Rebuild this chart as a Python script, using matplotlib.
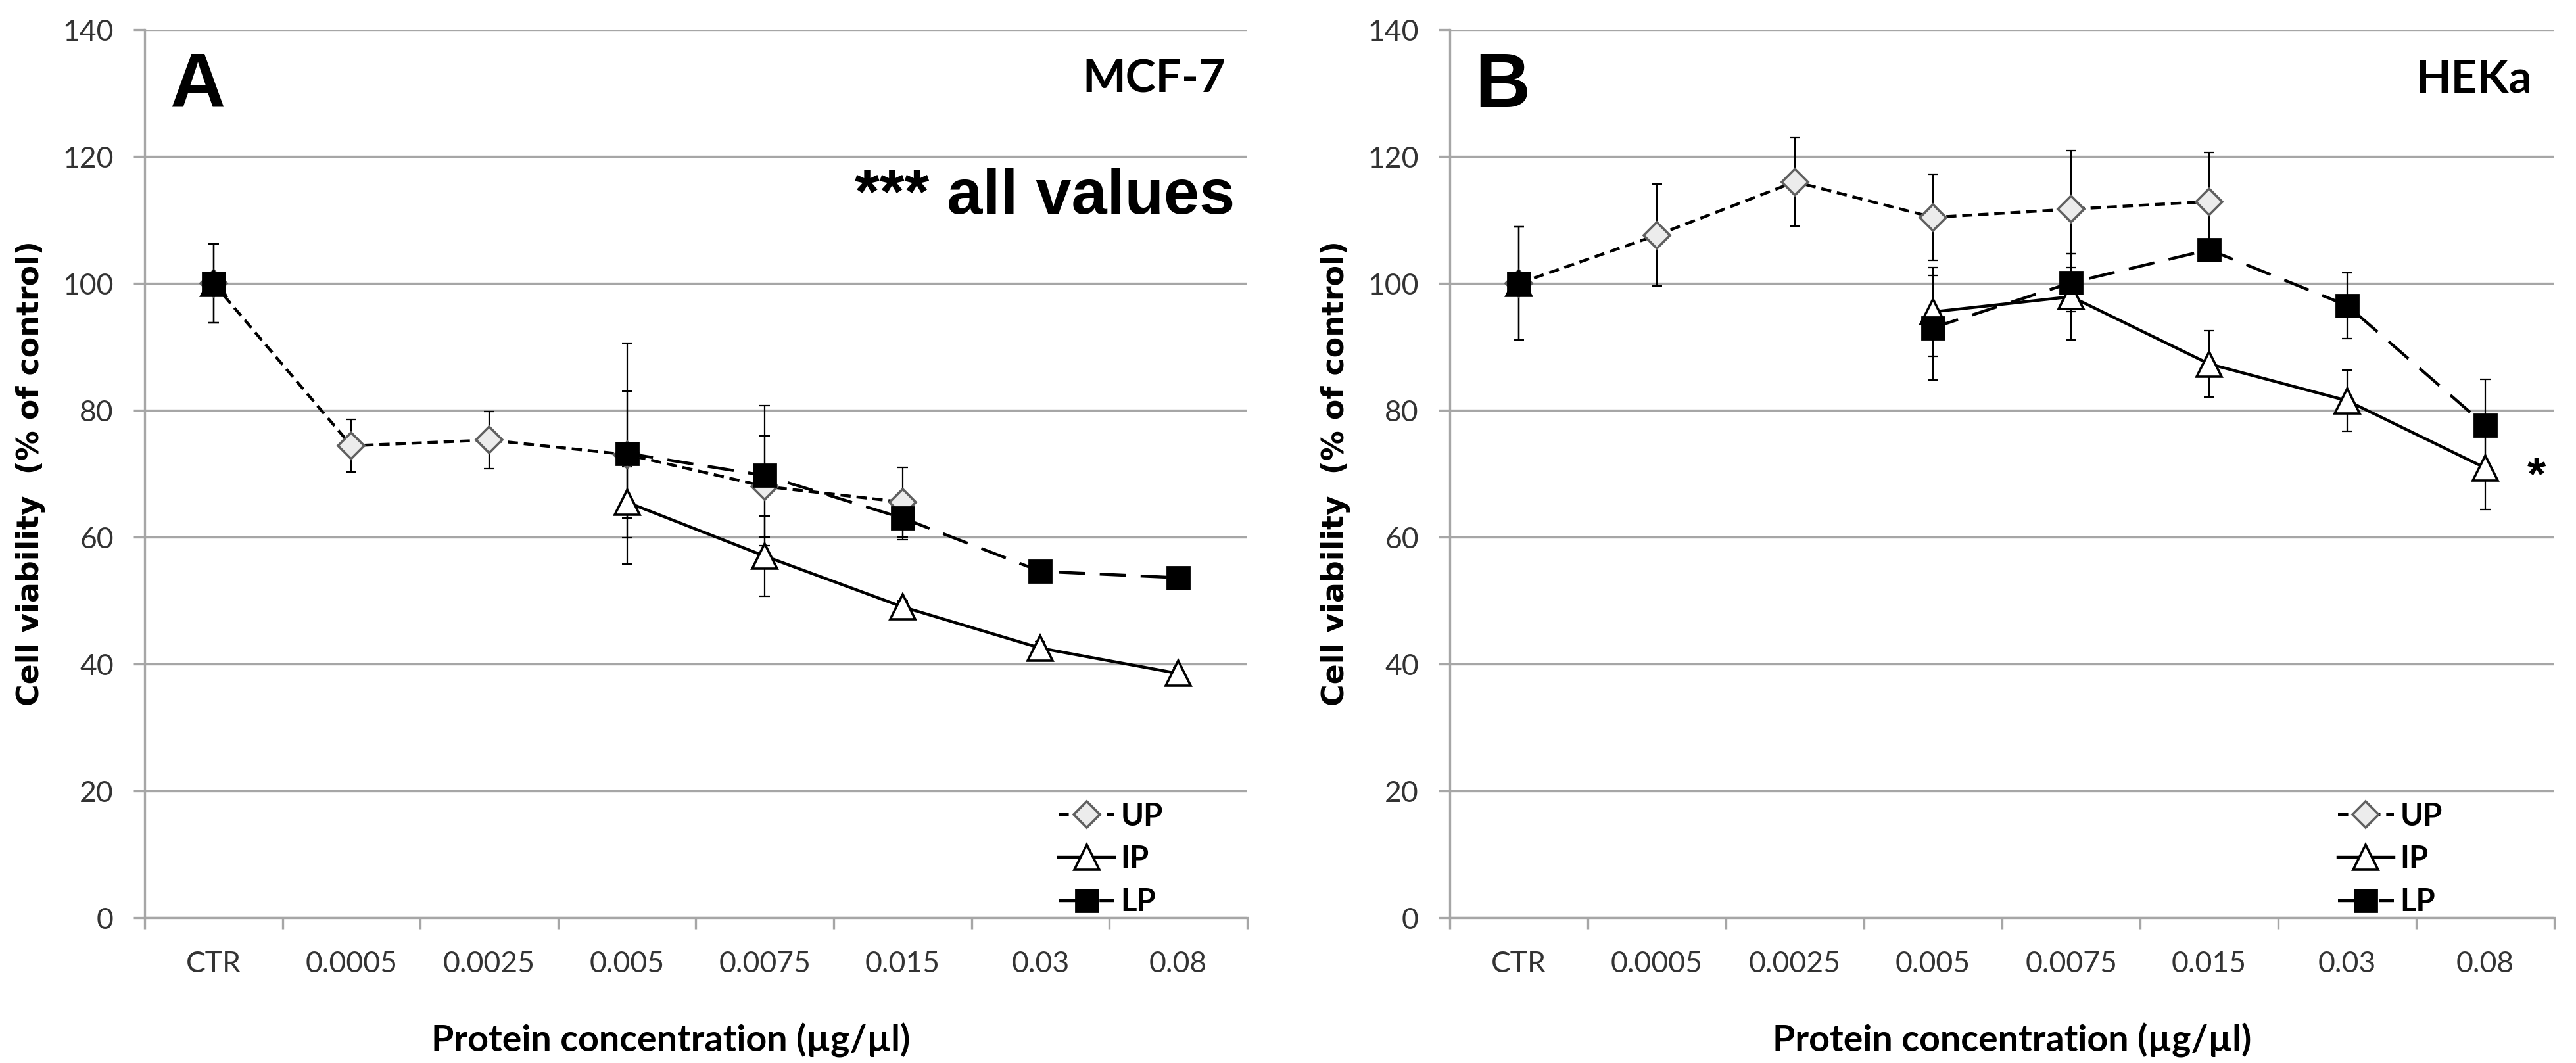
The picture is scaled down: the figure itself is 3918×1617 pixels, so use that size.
import numpy as np
import matplotlib
matplotlib.use("Agg")
import matplotlib.pyplot as plt

nan = np.nan

cats = ["CTR", "0.0005", "0.0025", "0.005", "0.0075", "0.015", "0.03", "0.08"]

# panel A, MCF-7
up_a = [100, 74.4, 75.3, 73.0, 68.0, 65.5, nan, nan]
up_a_err = [6.2, 4.1, 4.5, 10.0, 8.0, 5.5, nan, nan]
ip_a = [100, nan, nan, 65.5, 57.0, 49.0, 42.5, 38.5]
ip_a_err = [6.2, nan, nan, 5.6, 6.3, 1.0, 1.0, 1.0]
lp_a = [100, nan, nan, 73.2, 69.7, 63.0, 54.6, 53.6]
lp_a_err = [6.2, nan, nan, 17.4, 11.0, 3.4, 1.0, 1.0]

# panel B, HEKa
up_b = [100, 107.6, 116.0, 110.4, 111.7, 112.9, nan, nan]
up_b_err = [8.9, 8.0, 7.0, 6.8, 9.2, 7.7, nan, nan]
ip_b = [100, nan, nan, 95.5, 97.9, 87.3, 81.5, 70.9]
ip_b_err = [8.9, nan, nan, 7.0, 6.8, 5.2, 4.8, 6.5]
lp_b = [100, nan, nan, 93.0, 100.1, 105.3, 96.5, 77.6]
lp_b_err = [8.9, nan, nan, 8.2, 4.6, 1.0, 5.2, 7.3]

CAL = ["Lato", "DejaVu Sans"]
ARI = ["Liberation Sans", "DejaVu Sans"]
GRID = "#a6a6a6"

styles = {
    "UP": dict(ls=(0, (3.5, 2)), marker="D", ms=10, mfc="#ececec", mec="#606060", mew=1.3, color="black", lw=1.6),
    "IP": dict(ls="-", marker="^", ms=14, mfc="white", mec="black", mew=1.3, color="black", lw=1.6),
    "LP": dict(ls=(0, (9, 5)), marker="s", ms=12.5, mfc="black", mec="black", mew=1.0, color="black", lw=1.6),
}

fig = plt.figure(figsize=(19.59, 8.085), dpi=200)
ax_a = fig.add_axes([0.05615, 0.13667, 0.4280, 0.8355])
ax_b = fig.add_axes([0.5628, 0.13667, 0.4288, 0.8355])

x = np.arange(len(cats))


def panel(ax, series, letter, cell, xl_x, leg_x):
    for name, y, err in series:
        ax.errorbar(x, y, yerr=err, fmt="none", ecolor="black", elinewidth=0.8,
                    capsize=3, capthick=0.8, zorder=2)
        ax.plot(x, y, zorder=3, label=name, **styles[name])

    ax.set_xlim(-0.5, len(cats) - 0.5)
    ax.set_ylim(0, 140)
    ax.set_yticks(range(0, 141, 20))
    ax.grid(axis="y", color=GRID, lw=1.2, zorder=0)
    ax.set_axisbelow(True)
    for s in ["top", "right"]:
        ax.spines[s].set_visible(False)
    for s in ["left", "bottom"]:
        ax.spines[s].set_color(GRID)
        ax.spines[s].set_linewidth(1.2)

    ax.set_xticks(x)
    ax.set_xticklabels(cats)
    ax.set_xticks(np.arange(-0.5, len(cats)), minor=True)
    ax.tick_params(axis="x", which="major", length=0, pad=18, labelsize=16, labelcolor="#333333")
    ax.tick_params(axis="x", which="minor", length=6, width=1.2, color=GRID, direction="out")
    ax.tick_params(axis="y", length=6, width=1.2, color=GRID, pad=11, labelsize=16, labelcolor="#333333")
    for t in ax.get_xticklabels() + ax.get_yticklabels():
        t.set_family(CAL)

    ax.set_ylabel("Cell viability  (% of control)", fontsize=16.5, fontweight="bold",
                  family=["DejaVu Sans"])
    ax.yaxis.set_label_coords(-0.09, 0.5)
    ax.set_xlabel("Protein concentration (\u00b5g/\u00b5l)", fontsize=20, fontweight="bold", family=CAL)
    ax.xaxis.set_label_coords(xl_x, -0.118)

    ax.text(0.023, 0.913, letter, transform=ax.transAxes, fontsize=42, fontweight="bold",
            family=ARI, va="baseline", ha="left")
    ax.text(0.98, 0.929, cell, transform=ax.transAxes, fontsize=25, fontweight="bold",
            family=CAL, va="baseline", ha="right")

    handles, labels = ax.get_legend_handles_labels()
    ax.legend(handles, labels, loc="upper left", bbox_to_anchor=(leg_x, 0.148),
              frameon=False, borderpad=0, handlelength=1.8, handletextpad=0.2,
              labelspacing=0.45, prop=dict(family=CAL, weight="bold", size=17))


panel(ax_a, [("UP", up_a, up_a_err), ("IP", ip_a, ip_a_err), ("LP", lp_a, lp_a_err)],
      "A", "MCF-7", 0.477, 0.815)
panel(ax_b, [("UP", up_b, up_b_err), ("IP", ip_b, ip_b_err), ("LP", lp_b, lp_b_err)],
      "B", "HEKa", 0.509, 0.79)

ax_a.text(0.989, 111, "*** all values", transform=ax_a.get_yaxis_transform(),
          fontsize=35, fontweight="bold", family=ARI, ha="right", va="baseline")
ax_b.text(7.37, ip_b[-1] - 1.5, "*", fontsize=26, fontweight="bold", family=ARI,
          ha="center", va="center")

fig.savefig("out.png", dpi=200)
